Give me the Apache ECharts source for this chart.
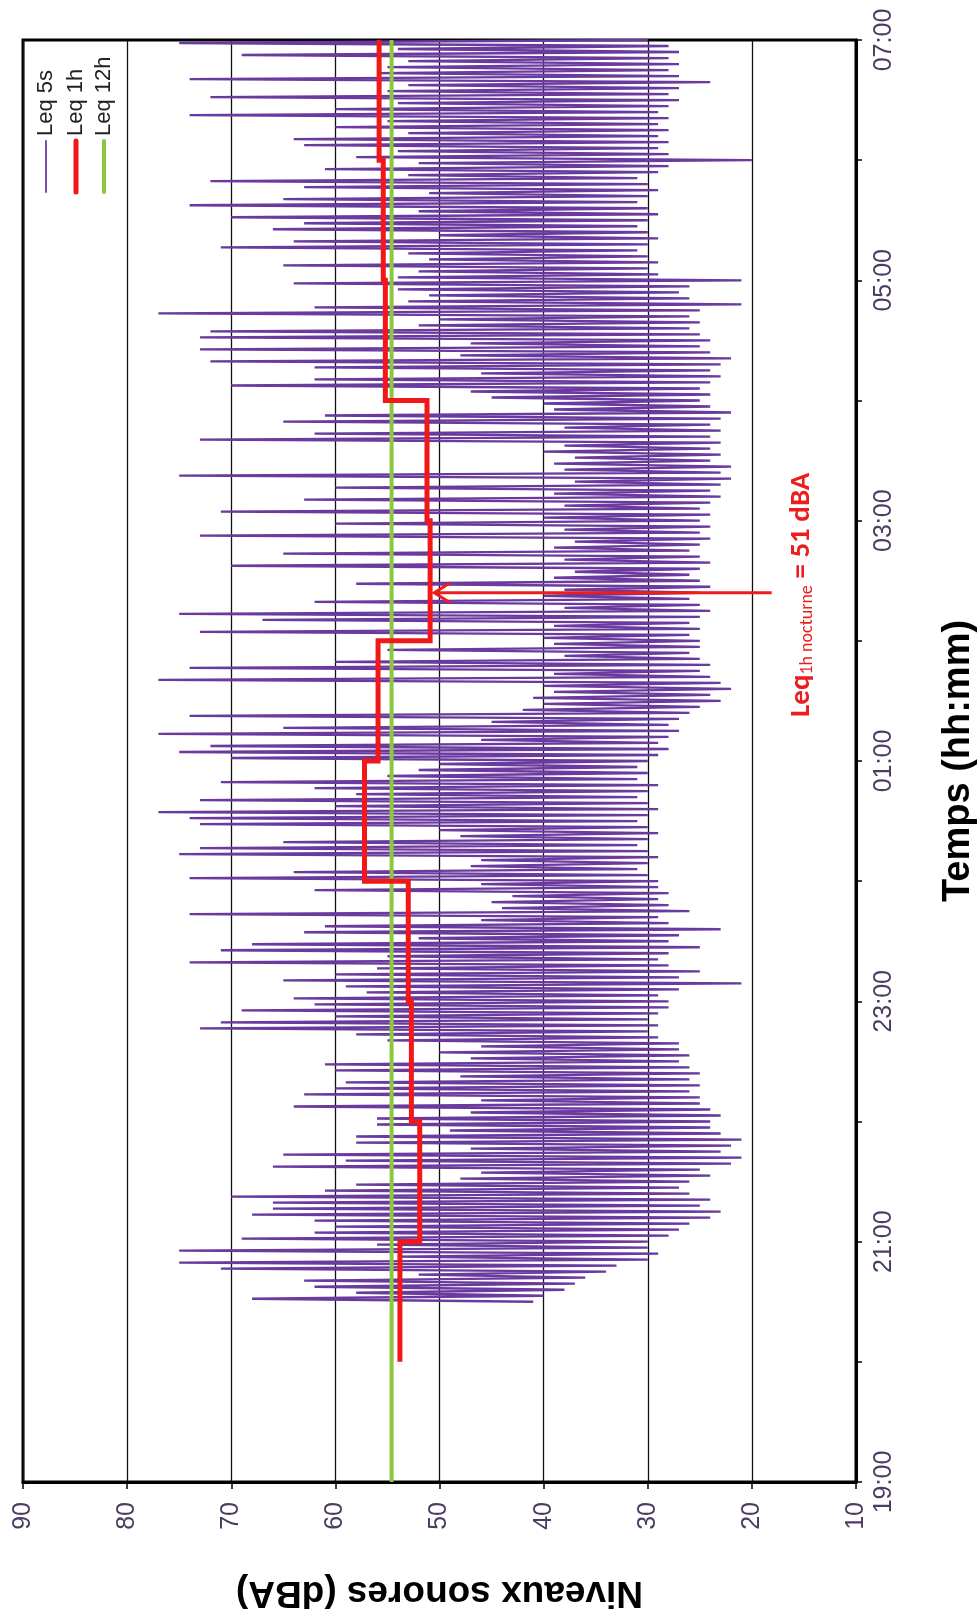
<!DOCTYPE html>
<html>
<head>
<meta charset="utf-8">
<script src="https://cdn.jsdelivr.net/npm/echarts@6/dist/echarts.min.js"></script>
<style>
html,body{margin:0;padding:0;background:#ffffff;}
#chart{width:978px;height:1616px;}
</style>
</head>
<body>
<div id="chart"></div>
<script>
// ---------- data ----------
const seriesNames = ['Leq 5s', 'Leq 1h', 'Leq 12h'];
const seriesColors = ['#6a3a9e', '#f01818', '#8dc63f'];
const timeLabels = ['19:00', '21:00', '23:00', '01:00', '03:00', '05:00', '07:00']; // hours 0,2,4..12 after 19:00
const dbTicks = [10, 20, 30, 40, 50, 60, 70, 80, 90];

// Leq 1h: hourly steps, start hour (hours after 19:00) and value
const leq1hStart = [1, 2, 3, 4, 5, 6, 7, 8, 9, 10, 11];
const leq1hValues = [53.8, 51.9, 52.7, 53.0, 57.2, 55.9, 50.9, 51.2, 55.2, 55.4, 55.8];

// Leq 12h: constant over the whole period
const leq12hValue = 54.6;
const leq12hSpan = [0, 12];

// Leq 5s: read every 1.5 min (0.025 h), grouped by hour
const sampleStepHours = 0.025;
const leq5s_2030 = [41,68,40,58,38,62,37,63,36,52,34,71,33,75,30,54,29,75,30,56];
const leq5s_21 = [30,69,28,62,27,60,26,62,24,68,23,66,25,66,24,70,26,61,27,58,26,48,24,46,25,66,22,59,21,65,23,47,22,58,21,58,23,49,24,56];
const leq5s_22 = [24,56,23,47,24,64,25,46,25,63,26,60,25,59,26,48,25,60,26,61,27,47,26,50,27,46,27,55,29,58,30,73,29,71,30,60,29,69,28,62];
const leq5s_23 = [28,64,29,57,27,59,21,65,27,60,25,56,28,74,29,55,28,71,25,68,28,52,27,63,23,61,28,46,29,74,26,44,28,45,29,43,28,62,29,46];
const leq5s_00 = [29,74,30,64,31,47,30,46,29,75,30,73,31,65,30,48,29,50,30,73,31,74,30,77,29,60,30,73,31,58,30,62,29,71,31,55,30,52,31,50];
const leq5s_01 = [30,70,29,75,28,72,29,46,28,77,27,65,28,45,27,74,26,42,25,40,23,41,24,39,22,40,23,77,24,39,25,74,24,60,25,38,26,55,25,39];
const leq5s_02 = [25,40,26,73,25,39,26,67,25,75,24,38,25,62,26,40,25,38,24,58,25,39,26,37,25,70,24,38,25,65,26,39,25,37,24,73,25,38,24,60];
const leq5s_03 = [25,40,24,71,25,38,24,63,23,39,24,60,23,37,22,75,23,38,22,39,24,37,23,40,24,38,23,73,24,62,23,38,24,65,23,61,22,39,24,40];
const leq5s_04 = [25,45,24,47,25,70,24,62,23,46,24,62,23,72,22,48,24,73,25,47,24,73,25,72,26,52,25,50,26,77,25,62,21,53,26,51,27,54,26,64];
const leq5s_05 = [21,54,29,52,30,65,29,51,30,53,31,71,30,64,29,50,30,66,31,63,30,70,29,52,30,74,31,65,30,51,29,63,30,72,31,53,29,61,28,52];
const leq5s_06 = [20,58,28,54,29,63,28,64,29,53,28,60,29,55,28,74,29,60,28,54,27,72,28,55,27,53,24,74,27,56,28,55,27,53,28,69,27,54,28,75,30];
const leq5sSegments = [
  {start: 1.5, values: leq5s_2030},
  {start: 2, values: leq5s_21},
  {start: 3, values: leq5s_22},
  {start: 4, values: leq5s_23},
  {start: 5, values: leq5s_00},
  {start: 6, values: leq5s_01},
  {start: 7, values: leq5s_02},
  {start: 8, values: leq5s_03},
  {start: 9, values: leq5s_04},
  {start: 10, values: leq5s_05},
  {start: 11, values: leq5s_06}
];

// annotation
const annotTime = 7.40;      // hours after 19:00 (~02:24)
const annotFromDb = 18.1;
const annotToDb = 50.6;

// ---------- build series data ----------
const leq5sData = [];
leq5sSegments.forEach(seg => {
  seg.values.forEach((v, i) => leq5sData.push([v, seg.start + i * sampleStepHours]));
});
const leq1hData = [];
leq1hStart.forEach((h, i) => {
  leq1hData.push([leq1hValues[i], h]);
  leq1hData.push([leq1hValues[i], h + 1]);
});
const leq12hData = leq12hSpan.map(t => [leq12hValue, t]);

const tickFont = "'Liberation Sans Narrow','Arial Narrow','Liberation Sans',Arial,sans-serif";
const tickColor = '#4d3c62';
const titleFont = "'Liberation Sans',Arial,sans-serif";

const chart = echarts.init(document.getElementById('chart'), null, {renderer: 'canvas'});
const option = {
  animation: false,
  backgroundColor: '#ffffff',
  grid: {
    left: 23, right: 122, top: 40, bottom: 134,
    containLabel: false, outerBoundsMode: 'none',
    show: true, borderColor: '#000', borderWidth: 3, backgroundColor: 'transparent'
  },
  xAxis: {
    type: 'value', min: 10, max: 90, interval: 10, inverse: true, position: 'bottom',
    axisLine: {show: true, lineStyle: {color: '#000', width: 3}},
    axisTick: {show: true, inside: false, length: 7, lineStyle: {color: '#000', width: 1.5}},
    splitLine: {show: true, lineStyle: {color: '#111', width: 1.3}},
    axisLabel: {
      rotate: 90, margin: 20, fontSize: 25, fontFamily: tickFont, color: tickColor,
      showMinLabel: true, showMaxLabel: true,
      formatter: v => dbTicks.indexOf(Math.round(v)) >= 0 ? String(Math.round(v)) : ''
    },
    name: 'Niveaux sonores (dBA)', nameLocation: 'middle', nameRotate: 180, nameGap: 92,
    nameTextStyle: {fontSize: 37, fontWeight: 'bold', color: '#000', fontFamily: titleFont}
  },
  yAxis: {
    type: 'value', min: 0, max: 12, interval: 1, position: 'right',
    axisLine: {show: true, lineStyle: {color: '#000', width: 3}},
    axisTick: {show: true, inside: false, length: 6, lineStyle: {color: '#000', width: 1.5}},
    splitLine: {show: false},
    axisLabel: {
      rotate: 90, margin: 16, fontSize: 25, fontFamily: tickFont, color: tickColor,
      showMinLabel: true, showMaxLabel: true,
      formatter: v => { const h = Math.round(v); return h % 2 === 0 ? timeLabels[h / 2] : ''; }
    },
    name: 'Temps (hh:mm)', nameLocation: 'middle', nameRotate: 90, nameGap: 84,
    nameTextStyle: {fontSize: 38, fontWeight: 'bold', color: '#000', fontFamily: titleFont}
  },
  series: [
    {
      name: seriesNames[0], type: 'line', data: leq5sData, showSymbol: false, symbol: 'none',
      lineStyle: {color: seriesColors[0], width: 2.3}, z: 2, silent: true
    },
    {
      name: seriesNames[2], type: 'line', data: leq12hData, showSymbol: false, symbol: 'none',
      lineStyle: {color: seriesColors[2], width: 4}, z: 3, silent: true
    },
    {
      name: seriesNames[1], type: 'line', data: leq1hData, showSymbol: false, symbol: 'none',
      lineStyle: {color: seriesColors[1], width: 5, join: 'miter'}, z: 4, silent: true
    }
  ]
};
chart.setOption(option);

// ---------- legend & annotation (graphic) ----------
const legendX = [46, 76, 104];
const legendWidths = [1.8, 5, 4];
const graphics = [];
seriesNames.forEach((name, i) => {
  graphics.push({
    type: 'line', silent: true, z: 10,
    shape: {x1: legendX[i], y1: 141, x2: legendX[i], y2: 192},
    style: {stroke: seriesColors[i], lineWidth: legendWidths[i], lineCap: 'round'}
  });
  graphics.push({
    type: 'text', silent: true, z: 10,
    x: legendX[i], y: 136, rotation: Math.PI / 2,
    style: {
      text: name, fill: '#222', fontSize: 22,
      fontFamily: titleFont,
      align: 'left', verticalAlign: 'middle'
    }
  });
});

const p0 = chart.convertToPixel({gridIndex: 0}, [annotFromDb, annotTime]);
const p1 = chart.convertToPixel({gridIndex: 0}, [annotToDb, annotTime]);
graphics.push({
  type: 'line', silent: true, z: 11,
  shape: {x1: p0[0], y1: p0[1], x2: p1[0] + 1, y2: p1[1]},
  style: {stroke: '#ee1c1c', lineWidth: 3}
});
graphics.push({
  type: 'polyline', silent: true, z: 11,
  shape: {points: [[p1[0] + 17, p1[1] - 10], [p1[0] + 1, p1[1]], [p1[0] + 17, p1[1] + 10]]},
  style: {stroke: '#ee1c1c', lineWidth: 3, fill: null}
});
const annotFont = "'Carlito','Liberation Sans',Arial,sans-serif";
graphics.push({
  type: 'text', silent: true, z: 11,
  x: p0[0] + 29, y: p0[1] + 2, rotation: Math.PI / 2,
  style: {
    text: '{a|Leq}{s|1h nocturne}{a| = 51 dBA}',
    align: 'center', verticalAlign: 'middle',
    fontFamily: annotFont,
    rich: {
      a: {fontSize: 29, fontWeight: 'bold', fill: '#ee1c1c', lineHeight: 32, verticalAlign: 'bottom', fontFamily: annotFont},
      s: {fontSize: 18, fill: '#ee1c1c', lineHeight: 16, verticalAlign: 'bottom', fontFamily: annotFont}
    }
  }
});
chart.setOption({graphic: graphics});
</script>
</body>
</html>
